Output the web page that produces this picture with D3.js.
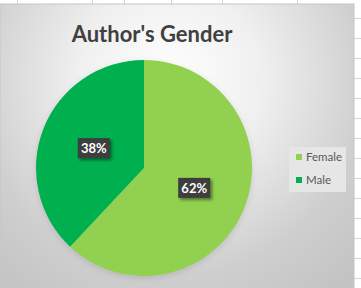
<!DOCTYPE html>
<html><head><meta charset="utf-8">
<script src="https://cdn.jsdelivr.net/npm/d3@7"></script>
<style>html,body{margin:0;padding:0;background:#fff;overflow:hidden}</style>
</head><body>
<script>
const categories = ["Female", "Male"];
const values = [62, 38];
const labels = ["62%", "38%"];
const colors = ["#92d050", "#00b050"];
const title = "Author's Gender";

const W = 361, H = 288;
const svg = d3.select("body").append("svg").attr("width", W).attr("height", H);
const defs = svg.append("defs");

// spreadsheet gridlines behind
const colLines = [17, 92, 124, 171, 222, 297];
svg.selectAll("line.col").data(colLines).enter().append("line")
  .attr("x1", d => d + 0.5).attr("x2", d => d + 0.5).attr("y1", 0).attr("y2", 4)
  .attr("stroke", "#d4d4d4");
const rowLines = d3.range(18, 288, 20);
svg.selectAll("line.row").data(rowLines).enter().append("line")
  .attr("x1", 354).attr("x2", 361).attr("y1", d => d + 0.5).attr("y2", d => d + 0.5)
  .attr("stroke", "#d4d4d4");

// chart background
const rg = defs.append("radialGradient").attr("id", "bg")
  .attr("gradientUnits", "userSpaceOnUse").attr("cx", 170).attr("cy", 80).attr("r", 260);
rg.append("stop").attr("offset", "0%").attr("stop-color", "#ffffff");
rg.append("stop").attr("offset", "35%").attr("stop-color", "#f0f0f0");
rg.append("stop").attr("offset", "75%").attr("stop-color", "#cfcfcf");
rg.append("stop").attr("offset", "100%").attr("stop-color", "#c4c4c4");
svg.append("rect").attr("x", 0).attr("y", 4).attr("width", 354).attr("height", 290)
  .attr("fill", "url(#bg)").attr("stroke", "#c6c6c6");

// title
svg.append("text").attr("x", 152).attr("y", 42).attr("text-anchor", "middle")
  .attr("font-family", "Lato, 'Open Sans', sans-serif").attr("font-weight", "bold")
  .attr("font-size", 22).attr("fill", "#404040").text(title);

// pie
const cx = 144, cy = 168, R = 108;
const pie = d3.pie().sort(null).value(d => d);
const arcs = pie(values);
const arc = d3.arc().innerRadius(0).outerRadius(R);
const labelArc = d3.arc().innerRadius(R / 2).outerRadius(R / 2);

const sh = defs.append("filter").attr("id", "shadow").attr("x", "-20%").attr("y", "-20%").attr("width", "150%").attr("height", "160%");
sh.append("feDropShadow").attr("dx", 2).attr("dy", 2).attr("stdDeviation", 1.5).attr("flood-color", "#000").attr("flood-opacity", 0.45);
const psh = defs.append("filter").attr("id", "pieshadow").attr("x", "-20%").attr("y", "-20%").attr("width", "140%").attr("height", "140%");
psh.append("feDropShadow").attr("dx", 0).attr("dy", 2).attr("stdDeviation", 3).attr("flood-color", "#000").attr("flood-opacity", 0.12);

const g = svg.append("g").attr("transform", `translate(${cx},${cy})`);
g.append("g").attr("filter", "url(#pieshadow)").selectAll("path").data(arcs).enter().append("path")
  .attr("d", arc).attr("fill", (d, i) => colors[i]);

// dotted dark pattern for labels
const pat = defs.append("pattern").attr("id", "dots").attr("patternUnits", "userSpaceOnUse")
  .attr("width", 4).attr("height", 4);
pat.append("rect").attr("width", 4).attr("height", 4).attr("fill", "#3c3c3c");
pat.append("rect").attr("x", 1).attr("y", 1).attr("width", 1).attr("height", 1).attr("fill", "#4a4a4a");

const lg = g.selectAll("g.lab").data(arcs).enter().append("g")
  .attr("transform", d => { const c = labelArc.centroid(d); return `translate(${c[0]},${c[1]})`; });
lg.append("rect").attr("x", -16).attr("y", -10).attr("width", 32).attr("height", 20)
  .attr("fill", "url(#dots)").attr("filter", "url(#shadow)");
lg.append("text").attr("text-anchor", "middle").attr("dy", "0.36em")
  .attr("font-family", "Lato, 'Open Sans', sans-serif").attr("font-weight", "bold")
  .attr("font-size", 13).attr("fill", "#ffffff").text((d, i) => labels[i]);

// legend
svg.append("rect").attr("x", 289).attr("y", 147).attr("width", 57).attr("height", 45).attr("fill", "#e6e6e6");
const leg = svg.selectAll("g.leg").data(categories).enter().append("g")
  .attr("transform", (d, i) => `translate(296,${157 + i * 23})`);
leg.append("rect").attr("x", 0).attr("y", -3).attr("width", 6).attr("height", 6).attr("fill", (d, i) => colors[i]);
leg.append("text").attr("x", 10).attr("dy", "0.35em")
  .attr("font-family", "Lato, 'Open Sans', sans-serif").attr("font-size", 11.5)
  .attr("fill", "#595959").text(d => d);
</script>
</body></html>
